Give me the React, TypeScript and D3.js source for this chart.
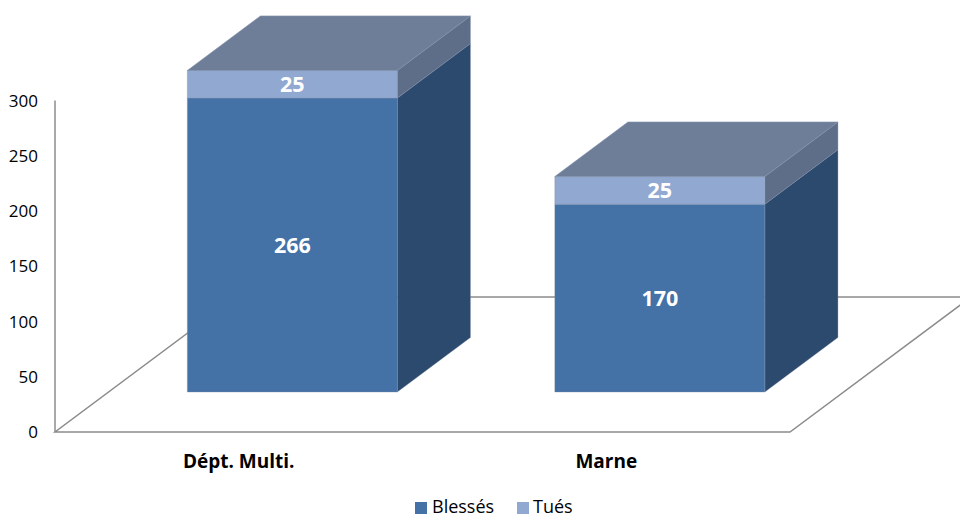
import React from "react";
import * as d3 from "d3";

const categories = ["Dépt. Multi.", "Marne"];
const blesses = [266, 170];
const tues = [25, 25];
const yTicks = [0, 50, 100, 150, 200, 250, 300];
const seriesNames = ["Blessés", "Tués"];

const W = 960;
const H = 517;
const FLOOR_Y = 432;
const DEPTH_DX = 181;
const DEPTH_DY = -135;
const BAR_D0 = 0.296;
const BAR_D1 = 0.7;

const colors = {
  front: ["#4471A6", "#91A9D1"],
  side: ["#2C496E", "#5E6E88"],
  top: "#6E7E99",
  grid: "#8C8C8C",
};

export default function App() {
  const x = d3
    .scaleBand<string>()
    .domain(categories)
    .range([55, 790])
    .paddingInner(0.4286)
    .paddingOuter(0.2143);
  const y = d3.scaleLinear().domain([0, 300]).range([0, 331.5]);
  const depth = d3.scaleLinear().domain([0, 1]).range([0, 1]);

  const P = (px: number, v: number, d: number): [number, number] => [
    px + depth(d) * DEPTH_DX,
    FLOOR_Y - y(v) + depth(d) * DEPTH_DY,
  ];
  const poly = (pts: [number, number][]) =>
    pts.map((p) => p[0].toFixed(2) + "," + p[1].toFixed(2)).join(" ");

  const stacked = d3
    .stack<number>()
    .keys(["0", "1"])
    .value((i, k) => (k === "0" ? blesses[i] : tues[i]))(
    categories.map((_, i) => i)
  );

  const x0 = x.range()[0];
  const x1 = x.range()[1];

  return (
    <svg
      width={W}
      height={H}
      style={{ position: "absolute", left: 0, top: 0, background: "#fff" }}
      fontFamily="'Open Sans', sans-serif"
    >
      {/* floor */}
      <g stroke={colors.grid} strokeWidth={1.5} fill="none">
        <polygon points={poly([P(x0, 0, 0), P(x1, 0, 0), P(x1, 0, 1), P(x0, 0, 1)])} />
        <line x1={P(x0, 0, 0)[0]} y1={P(x0, 0, 0)[1]} x2={P(x0, 300, 0)[0]} y2={P(x0, 300, 0)[1]} />
      </g>
      {/* y tick labels */}
      <g fontSize={17} fill="#000" textAnchor="end">
        {yTicks.map((t) => (
          <text key={t} x={38} y={P(x0, t, 0)[1]} dy="0.36em">
            {t}
          </text>
        ))}
      </g>
      {/* bars */}
      {categories.map((c, i) => {
        const bx0 = x(c)!;
        const bx1 = bx0 + x.bandwidth();
        const total = blesses[i] + tues[i];
        return (
          <g key={c}>
            {stacked.map((s, k) => {
              const [v0, v1] = s[i];
              return (
                <g key={k} stroke="#7f8ea8" strokeWidth={0.6} strokeOpacity={0.6}>
                  <polygon
                    fill={colors.side[k]}
                    points={poly([P(bx1, v0, BAR_D0), P(bx1, v0, BAR_D1), P(bx1, v1, BAR_D1), P(bx1, v1, BAR_D0)])}
                  />
                  <polygon
                    fill={colors.front[k]}
                    points={poly([P(bx0, v0, BAR_D0), P(bx1, v0, BAR_D0), P(bx1, v1, BAR_D0), P(bx0, v1, BAR_D0)])}
                  />
                </g>
              );
            })}
            <polygon
              fill={colors.top}
              stroke="#7f8ea8"
              strokeWidth={0.6}
              points={poly([P(bx0, total, BAR_D0), P(bx1, total, BAR_D0), P(bx1, total, BAR_D1), P(bx0, total, BAR_D1)])}
            />
            {stacked.map((s, k) => {
              const [v0, v1] = s[i];
              const [lx, ly] = P((bx0 + bx1) / 2, (v0 + v1) / 2, BAR_D0);
              return (
                <text
                  key={"l" + k}
                  x={lx}
                  y={ly}
                  dy="0.36em"
                  textAnchor="middle"
                  fill="#fff"
                  fontWeight="bold"
                  fontSize={21.5}
                >
                  {k === 0 ? blesses[i] : tues[i]}
                </text>
              );
            })}
            <text
              x={(bx0 + bx1) / 2}
              y={468}
              textAnchor="middle"
              fontWeight="bold"
              fontSize={19}
              fill="#000"
            >
              {c}
            </text>
          </g>
        );
      })}
      {/* legend */}
      <g fontSize={18} fill="#000">
        <rect x={415} y={502} width={12} height={12} fill={colors.front[0]} />
        <text x={432} y={513}>{seriesNames[0]}</text>
        <rect x={517} y={502} width={12} height={12} fill={colors.front[1]} />
        <text x={533} y={513}>{seriesNames[1]}</text>
      </g>
    </svg>
  );
}
